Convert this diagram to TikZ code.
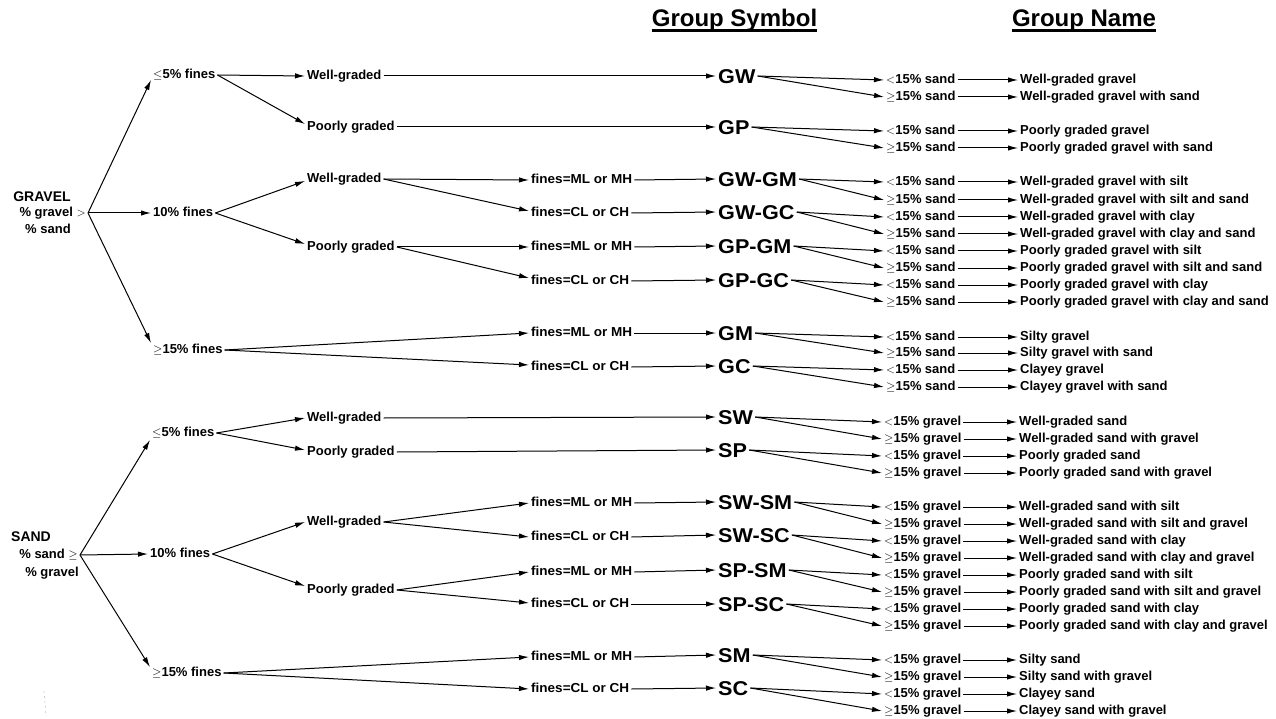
\documentclass[tikz,border=0pt]{standalone}
\usepackage{fontspec}
\setmainfont{Liberation Sans}
\newfontfamily\symfont[FakeStretch=1.08]{Liberation Sans}
\newfontfamily\finefont[FakeStretch=1.04]{Liberation Sans}
\usetikzlibrary{arrows.meta}
\tikzset{
  lbl/.style={font=\fontsize{13}{15}\selectfont\bfseries, inner sep=2pt, anchor=west, text height=9.4pt, text depth=2.6pt},
  fin/.style={lbl, font=\finefont\fontsize{13}{15}\selectfont\bfseries},
  ttl/.style={font=\fontsize{14}{16}\selectfont\bfseries, inner sep=1pt},
  sym/.style={font=\symfont\fontsize{20}{22}\selectfont\bfseries, inner sep=2pt, anchor=west, text height=14.3pt, text depth=0pt},
  hdr/.style={font=\fontsize{24}{26}\selectfont\bfseries, inner sep=0pt, anchor=base},
  arr/.style={-{Latex[length=10pt,width=5.4pt]}, line width=1pt},
}
\begin{document}
\begin{tikzpicture}[x=1pt,y=-1pt]
\fill[white] (0,0) rectangle (1276,719);
\useasboundingbox (0,0) rectangle (1276,719);

% headers
\node[hdr] (h1) at (734.5,27) {Group Symbol};
\node[hdr] (h2) at (1084,27) {Group Name};
\draw[line width=2.4pt] ([yshift=-3.6pt]h1.base west) -- ([yshift=-3.6pt]h1.base east);
\draw[line width=2.4pt] ([yshift=-3.6pt]h2.base west) -- ([yshift=-3.6pt]h2.base east);

% ================= GRAVEL =================
\node[ttl] (gT) at (42,197) {GRAVEL};
\node[lbl, anchor=east] (gM) at (88,213) {\% gravel $>$};
\node[lbl, anchor=center] (gB) at (48,230) {\% sand};

\node[lbl] (g5) at (151,75) {$\leq$5\% fines};
\node[lbl] (g10) at (151,213) {10\% fines};
\node[lbl] (g15) at (151,350) {$\geq$15\% fines};

\node[lbl] (gw1) at (305,76) {Well-graded};
\node[lbl] (gp1) at (305,127) {Poorly graded};
\node[lbl] (gw2) at (305,179) {Well-graded};
\node[lbl] (gp2) at (305,247) {Poorly graded};

\node[fin] (gf1) at (529,180) {fines=ML or MH};
\node[fin] (gf2) at (529,213) {fines=CL or CH};
\node[fin] (gf3) at (529,247) {fines=ML or MH};
\node[fin] (gf4) at (529,281) {fines=CL or CH};
\node[fin] (gf5) at (529,333) {fines=ML or MH};
\node[fin] (gf6) at (529,367) {fines=CL or CH};

\foreach \nm/\st/\y/\ya/\yb/\na/\nb in {
  GW/GW/76/80/97/Well-graded gravel/Well-graded gravel with sand,
  GP/GP/127/131/148/Poorly graded gravel/Poorly graded gravel with sand,
  GWGM/GW-GM/179/182/200/Well-graded gravel with silt/Well-graded gravel with silt and sand,
  GWGC/GW-GC/212/217/234/Well-graded gravel with clay/Well-graded gravel with clay and sand,
  GPGM/GP-GM/246/251/268/Poorly graded gravel with silt/Poorly graded gravel with silt and sand,
  GPGC/GP-GC/280/285/302/Poorly graded gravel with clay/Poorly graded gravel with clay and sand,
  GM/GM/333/337/353/Silty gravel/Silty gravel with sand,
  GC/GC/366/370/387/Clayey gravel/Clayey gravel with sand}{
  \node[sym] (\nm) at (716,\y) {\st};
  \node[lbl] (\nm-a) at (884,\ya) {$<$15\% sand};
  \node[lbl] (\nm-b) at (884,\yb) {$\geq$15\% sand};
  \node[lbl] (\nm-na) at (1018,\ya) {\na};
  \node[lbl] (\nm-nb) at (1018,\yb) {\nb};
  \draw[arr] (\nm.east) -- (\nm-a.west);
  \draw[arr] (\nm.east) -- (\nm-b.west);
  \draw[arr] (\nm-a.east) -- (\nm-na.west);
  \draw[arr] (\nm-b.east) -- (\nm-nb.west);
}

\draw[arr] (gM.east) -- ([yshift=-5pt]g5.west);
\draw[arr] (gM.east) -- (g10.west);
\draw[arr] (gM.east) -- ([yshift=7pt]g15.west);
\draw[arr] (g5.east) -- (gw1.west);
\draw[arr] (g5.east) -- ([yshift=3pt]gp1.west);
\draw[arr] (gw1.east) -- (GW.west);
\draw[arr] (gp1.east) -- (GP.west);
\draw[arr] (g10.east) -- ([yshift=-2pt]gw2.west);
\draw[arr] (g10.east) -- ([yshift=3pt]gp2.west);
\draw[arr] (gw2.east) -- (gf1.west);
\draw[arr] (gw2.east) -- ([yshift=2pt]gf2.west);
\draw[arr] (gp2.east) -- (gf3.west);
\draw[arr] (gp2.east) -- ([yshift=3pt]gf4.west);
\draw[arr] (g15.east) -- (gf5.west);
\draw[arr] (g15.east) -- ([yshift=2pt]gf6.west);
\draw[arr] (gf1.east) -- (GWGM.west);
\draw[arr] (gf2.east) -- (GWGC.west);
\draw[arr] (gf3.east) -- (GPGM.west);
\draw[arr] (gf4.east) -- (GPGC.west);
\draw[arr] (gf5.east) -- (GM.west);
\draw[arr] (gf6.east) -- (GC.west);

% ================= SAND =================
\node[ttl] (sT) at (31,537) {SAND};
\node[lbl, anchor=east] (sM) at (80,555) {\% sand $\geq$};
\node[lbl, anchor=center] (sB) at (52,573) {\% gravel};

\node[lbl] (s5) at (150,433) {$\leq$5\% fines};
\node[lbl] (s10) at (148,554) {10\% fines};
\node[lbl] (s15) at (150,673) {$\geq$15\% fines};

\node[lbl] (sw1) at (305,418) {Well-graded};
\node[lbl] (sp1) at (305,452) {Poorly graded};
\node[lbl] (sw2) at (305,522) {Well-graded};
\node[lbl] (sp2) at (305,590) {Poorly graded};

\node[fin] (sf1) at (529,503) {fines=ML or MH};
\node[fin] (sf2) at (529,537) {fines=CL or CH};
\node[fin] (sf3) at (529,572) {fines=ML or MH};
\node[fin] (sf4) at (529,604) {fines=CL or CH};
\node[fin] (sf5) at (529,657) {fines=ML or MH};
\node[fin] (sf6) at (529,689) {fines=CL or CH};

\foreach \nm/\st/\y/\ya/\yb/\na/\nb in {
  SW/SW/417/422/439/Well-graded sand/Well-graded sand with gravel,
  SP/SP/450/456/473/Poorly graded sand/Poorly graded sand with gravel,
  SWSM/SW-SM/502/507/524/Well-graded sand with silt/Well-graded sand with silt and gravel,
  SWSC/SW-SC/535/541/558/Well-graded sand with clay/Well-graded sand with clay and gravel,
  SPSM/SP-SM/570/575/592/Poorly graded sand with silt/Poorly graded sand with silt and gravel,
  SPSC/SP-SC/604/609/626/Poorly graded sand with clay/Poorly graded sand with clay and gravel,
  SM/SM/655/660/677/Silty sand/Silty sand with gravel,
  SC/SC/688/694/711/Clayey sand/Clayey sand with gravel}{
  \node[sym] (\nm) at (716,\y) {\st};
  \node[lbl] (\nm-a) at (882,\ya) {$<$15\% gravel};
  \node[lbl] (\nm-b) at (882,\yb) {$\geq$15\% gravel};
  \node[lbl] (\nm-na) at (1017,\ya) {\na};
  \node[lbl] (\nm-nb) at (1017,\yb) {\nb};
  \draw[arr] (\nm.east) -- (\nm-a.west);
  \draw[arr] (\nm.east) -- (\nm-b.west);
  \draw[arr] (\nm-a.east) -- (\nm-na.west);
  \draw[arr] (\nm-b.east) -- (\nm-nb.west);
}

\draw[arr] (sM.east) -- ([yshift=-7pt]s5.west);
\draw[arr] (sM.east) -- (s10.west);
\draw[arr] (sM.east) -- ([yshift=6pt]s15.west);
\draw[arr] (s5.east) -- (sw1.west);
\draw[arr] (s5.east) -- ([yshift=2pt]sp1.west);
\draw[arr] (sw1.east) -- (SW.west);
\draw[arr] (sp1.east) -- (SP.west);
\draw[arr] (s10.east) -- (sw2.west);
\draw[arr] (s10.east) -- ([yshift=4pt]sp2.west);
\draw[arr] (sw2.east) -- (sf1.west);
\draw[arr] (sw2.east) -- (sf2.west);
\draw[arr] (sp2.east) -- (sf3.west);
\draw[arr] (sp2.east) -- ([yshift=1pt]sf4.west);
\draw[arr] (s15.east) -- (sf5.west);
\draw[arr] (s15.east) -- (sf6.west);
\draw[arr] (sf1.east) -- (SWSM.west);
\draw[arr] (sf2.east) -- (SWSC.west);
\draw[arr] (sf3.east) -- (SPSM.west);
\draw[arr] (sf4.east) -- (SPSC.west);
\draw[arr] (sf5.east) -- (SM.west);
\draw[arr] (sf6.east) -- (SC.west);

% faint scan mark
\draw[gray!45, line width=0.6pt, dash pattern=on 2pt off 3pt] (44,691) -- (46,716);
\end{tikzpicture}
\end{document}
